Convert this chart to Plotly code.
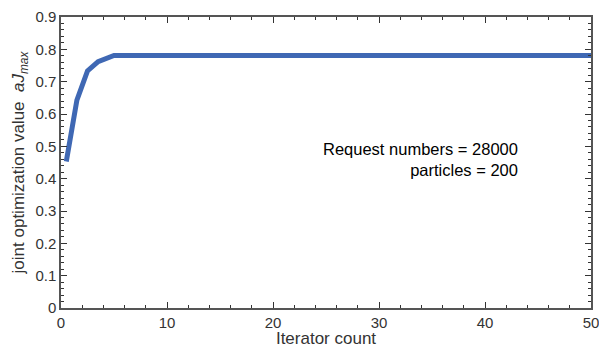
import plotly.graph_objects as go

x_vals = [0.5, 1.5, 2.5, 3.5, 5, 10, 20, 30, 40, 50]
y_vals = [0.453, 0.643, 0.733, 0.762, 0.781, 0.781, 0.781, 0.781, 0.781, 0.781]
x_ticks = [0, 10, 20, 30, 40, 50]
y_ticks = [0, 0.1, 0.2, 0.3, 0.4, 0.5, 0.6, 0.7, 0.8, 0.9]
y_tick_text = ["0", "0.1", "0.2", "0.3", "0.4", "0.5", "0.6", "0.7", "0.8", "0.9"]

FONT = "Liberation Sans"

fig = go.Figure()
fig.add_trace(go.Scatter(x=x_vals, y=y_vals, mode="lines",
                         line=dict(color="#3F68B4", width=5), showlegend=False))

axis_common = dict(showline=True, linecolor="#555555", linewidth=1.5, mirror="allticks",
                   ticks="inside", ticklen=6, tickwidth=1, tickcolor="#333333",
                   showgrid=False, zeroline=False, automargin=False, ticklabeloverflow="allow",
                   tickfont=dict(family=FONT, size=15, color="#333333"))

fig.update_xaxes(range=[0, 50], tickvals=x_ticks,
                 minor=dict(dtick=2, ticks="inside", ticklen=3, tickcolor="#333333", showgrid=False),
                 title=dict(text="Iterator count", font=dict(family=FONT, size=17, color="#333333"), standoff=4),
                 **axis_common)
fig.update_yaxes(range=[0, 0.9], tickvals=y_ticks, ticktext=y_tick_text,
                 minor=dict(dtick=0.02, ticks="inside", ticklen=3, tickcolor="#333333", showgrid=False),
                 title=dict(text="joint optimization value  <i>aJ</i><sub><i>max</i></sub>",
                            font=dict(family=FONT, size=17, color="#333333"), standoff=6),
                 **axis_common)

fig.add_annotation(x=0.866, y=0.509, xref="paper", yref="paper", xanchor="right", yanchor="middle",
                   text="Request numbers = 28000<br>particles = 200", align="right", showarrow=False,
                   font=dict(family=FONT, size=16.5, color="#000000"))

fig.update_layout(width=599, height=348, margin=dict(l=61, r=8, t=17, b=40),
                  plot_bgcolor="white", paper_bgcolor="white")

fig.write_html("out.html")
